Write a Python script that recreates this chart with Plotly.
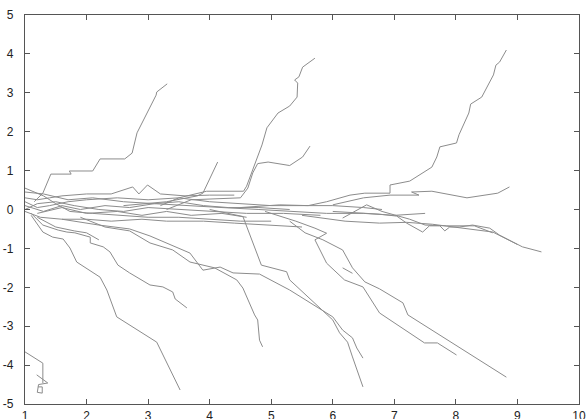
import plotly.graph_objects as go

# ---------------- data ----------------
x_tick_vals = [1, 2, 3, 4, 5, 6, 7, 8, 9, 10]
x_tick_text = ["1", "2", "3", "4", "5", "6", "7", "8", "9", "10"]
y_tick_vals = [-5, -4, -3, -2, -1, 0, 1, 2, 3, 4, 5]
y_tick_text = ["-5", "-4", "-3", "-2", "-1", "0", "1", "2", "3", "4", "5"]

# rising paths
up1_x = [1.15, 1.29, 1.42, 1.75, 1.72, 2.10, 2.22, 2.62, 2.74, 2.82, 3.13, 3.14, 3.31]
up1_y = [0.20, 0.42, 0.91, 0.91, 0.99, 0.99, 1.30, 1.30, 1.45, 1.97, 2.94, 3.02, 3.23]
up2_x = [3.2, 3.5, 3.95, 4.55, 4.6, 4.72, 4.85, 4.93, 5.11, 5.30, 5.42, 5.43, 5.38, 5.45, 5.51, 5.71]
up2_y = [0.10, 0.30, 0.47, 0.47, 0.60, 1.12, 1.66, 2.10, 2.48, 2.66, 2.89, 3.25, 3.33, 3.41, 3.66, 3.89]
up3_x = [3.3, 3.7, 4.5, 4.62, 4.70, 4.78, 4.95, 5.30, 5.51, 5.63]
up3_y = [0.00, 0.25, 0.30, 0.55, 0.94, 1.18, 1.22, 1.13, 1.35, 1.63]
up4_x = [2.6, 3.3, 3.8, 3.89, 4.13]
up4_y = [0.10, 0.20, 0.35, 0.42, 1.22]
up5_x = [4.5, 5.14, 5.6, 5.9, 6.28, 6.52, 6.93, 6.93, 7.25, 7.61, 7.69, 7.74, 8.01, 8.05, 8.21, 8.24, 8.42, 8.61, 8.65, 8.71, 8.82]
up5_y = [0.05, 0.12, 0.10, 0.20, 0.37, 0.42, 0.42, 0.63, 0.73, 1.09, 1.35, 1.61, 1.71, 1.92, 2.48, 2.71, 2.89, 3.46, 3.71, 3.79, 4.10]
up6_x = [6.0, 6.5, 6.93, 7.40, 7.28, 7.61, 8.18, 8.68, 8.87]
up6_y = [0.12, 0.30, 0.37, 0.37, 0.45, 0.47, 0.30, 0.42, 0.58]

# right-hand paths near zero
mid1_x = [6.0, 6.76, 7.04, 7.20, 7.46, 7.57, 7.74, 7.82, 7.90, 8.06, 8.27, 8.55, 8.71, 9.08, 9.39]
mid1_y = [-0.05, -0.12, -0.17, -0.35, -0.58, -0.42, -0.42, -0.55, -0.45, -0.45, -0.40, -0.48, -0.66, -0.96, -1.09]
mid2_x = [5.5, 6.2, 6.76, 7.2, 7.62, 8.27, 8.6, 9.0]
mid2_y = [-0.15, -0.30, -0.35, -0.33, -0.38, -0.50, -0.58, -0.90]
mid3_x = [6.16, 6.55, 6.8, 7.25, 7.5, 7.85, 8.3, 8.6]
mid3_y = [-0.22, 0.12, -0.05, -0.25, -0.40, -0.42, -0.42, -0.60]

# falling paths
dn1_x = [1.1, 1.29, 1.45, 1.62, 1.73, 1.84, 2.22, 2.33, 2.49, 2.70, 3.14, 3.52]
dn1_y = [-0.15, -0.58, -0.71, -0.76, -0.99, -1.35, -1.74, -2.07, -2.76, -2.97, -3.41, -4.64]
dn2_x = [1.1, 1.29, 1.54, 1.68, 1.81, 2.06, 2.06, 2.27, 2.38, 2.51, 2.70, 3.03, 3.24, 3.40, 3.44, 3.63]
dn2_y = [-0.10, -0.40, -0.53, -0.58, -0.60, -0.71, -0.86, -0.96, -1.09, -1.43, -1.63, -1.94, -1.99, -2.12, -2.30, -2.53]
dn3_x = [1.9, 2.3, 2.7, 3.03, 3.40, 3.68, 4.08, 4.44, 4.54, 4.73, 4.78, 4.81, 4.86]
dn3_y = [-0.20, -0.45, -0.55, -0.86, -1.04, -1.35, -1.50, -1.81, -2.02, -2.71, -2.84, -3.36, -3.53]
dn4_x = [4.0, 4.3, 4.54, 4.84, 5.25, 5.30, 6.00, 6.11, 6.24, 6.32, 6.49]
dn4_y = [0.00, -0.10, -0.18, -1.43, -1.60, -1.81, -2.84, -3.17, -3.41, -3.79, -4.56]
dn5_x = [1.6, 2.2, 2.7, 3.03, 3.68, 3.89, 4.17, 4.38, 4.81, 5.30, 6.00, 6.16, 6.32, 6.39, 6.49]
dn5_y = [-0.25, -0.40, -0.50, -0.68, -1.12, -1.56, -1.48, -1.63, -1.66, -2.07, -2.76, -3.10, -3.30, -3.56, -3.82]
dn6_x = [4.9, 5.4, 5.71, 5.90, 5.71, 5.90, 6.19, 6.49, 6.76, 7.49, 7.70, 8.01]
dn6_y = [-0.05, -0.30, -0.48, -0.61, -0.78, -1.38, -1.81, -1.99, -2.66, -3.43, -3.43, -3.74]
dn7_x = [5.3, 5.55, 5.84, 6.16, 6.32, 6.52, 6.76, 7.14, 7.22, 8.82]
dn7_y = [-0.30, -0.60, -0.78, -1.04, -1.50, -1.86, -2.04, -2.40, -2.71, -4.31]
short1_x = [1.2, 1.5, 1.8, 2.0, 2.2]
short1_y = [-0.20, -0.45, -0.55, -0.60, -0.78]
short2_x = [6.16, 6.32]
short2_y = [-1.50, -1.64]

# dense band around zero
c1_x = [1.0, 1.3, 1.5, 1.73, 2.1, 2.5, 3.0, 3.5, 4.0, 4.5, 5.0]
c1_y = [0.55, 0.35, 0.15, -0.05, -0.10, -0.15, -0.20, -0.20, -0.25, -0.30, -0.30]
c2_x = [1.0, 1.2, 1.4, 1.6, 2.0, 2.4, 2.75, 2.85, 2.99, 3.2, 3.6, 4.0, 4.4]
c2_y = [0.30, 0.25, 0.30, 0.35, 0.40, 0.40, 0.58, 0.40, 0.63, 0.40, 0.35, 0.37, 0.37]
c3_x = [1.0, 1.2, 1.4, 1.7, 2.0, 2.5, 3.0, 3.5, 4.0, 4.5, 5.0, 5.5, 6.0, 6.5, 6.8]
c3_y = [0.20, 0.05, 0.10, 0.20, 0.25, 0.30, 0.25, 0.30, 0.20, 0.15, 0.10, 0.10, 0.10, 0.05, 0.00]
c4_x = [1.0, 1.3, 1.6, 1.9, 2.3, 2.7, 3.1, 3.6, 4.2, 4.8, 5.4, 5.9, 6.5, 7.0, 7.5]
c4_y = [0.10, -0.05, 0.10, 0.00, 0.10, 0.05, 0.15, 0.10, 0.05, 0.00, -0.05, -0.10, -0.10, -0.15, -0.10]
c5_x = [1.0, 1.2, 1.5, 1.8, 2.2, 2.6, 3.0, 3.5, 4.0, 4.6, 5.2, 5.8]
c5_y = [0.00, 0.15, 0.20, 0.10, 0.00, -0.05, 0.05, 0.00, -0.05, -0.10, -0.10, -0.15]
c6_x = [1.0, 1.25, 1.6, 2.0, 2.4, 2.9, 3.3, 3.9, 4.4, 5.0, 5.5]
c6_y = [-0.05, -0.20, -0.25, -0.25, -0.30, -0.25, -0.30, -0.30, -0.35, -0.40, -0.45]
c7_x = [1.0, 1.3, 1.7, 2.1, 2.6, 3.1, 3.5, 3.9, 4.3, 4.8, 5.3]
c7_y = [0.45, 0.40, 0.25, 0.30, 0.20, 0.15, 0.20, 0.10, 0.05, 0.05, 0.00]
c8_x = [1.2, 1.6, 2.0, 2.5, 2.9, 3.3, 3.7, 4.2, 4.6]
c8_y = [-0.10, 0.05, -0.10, -0.05, -0.15, -0.05, -0.15, -0.10, -0.20]

# lower-left stray strokes
bl1_x = [1.0, 1.29, 1.29]
bl1_y = [-3.66, -3.95, -4.46]
bl2_x = [1.19, 1.37, 1.22, 1.20, 1.28, 1.28, 1.21]
bl2_y = [-4.25, -4.46, -4.50, -4.70, -4.72, -4.56, -4.56]

paths = [
    (up1_x, up1_y), (up2_x, up2_y), (up3_x, up3_y), (up4_x, up4_y),
    (up5_x, up5_y), (up6_x, up6_y),
    (mid1_x, mid1_y), (mid2_x, mid2_y), (mid3_x, mid3_y),
    (dn1_x, dn1_y), (dn2_x, dn2_y), (dn3_x, dn3_y), (dn4_x, dn4_y),
    (dn5_x, dn5_y), (dn6_x, dn6_y), (dn7_x, dn7_y),
    (short1_x, short1_y), (short2_x, short2_y),
    (c1_x, c1_y), (c2_x, c2_y), (c3_x, c3_y), (c4_x, c4_y),
    (c5_x, c5_y), (c6_x, c6_y), (c7_x, c7_y), (c8_x, c8_y),
    (bl1_x, bl1_y), (bl2_x, bl2_y),
]

fig = go.Figure()
for px, py in paths:
    fig.add_trace(go.Scatter(
        x=px, y=py, mode="lines",
        line=dict(color="#8c8c8c", width=1),
        hoverinfo="skip", showlegend=False,
    ))

axis_common = dict(
    showgrid=False, zeroline=False,
    showline=True, linecolor="#555555", linewidth=1.2,
    mirror="ticks", ticks="inside", ticklen=5, tickwidth=1,
    tickcolor="#555555", automargin=False,
    tickfont=dict(family="Liberation Sans, Arial, sans-serif", size=12, color="#222222"),
)

fig.update_xaxes(range=[1, 10], tickmode="array", tickvals=x_tick_vals,
                 ticktext=x_tick_text, **axis_common)
fig.update_yaxes(range=[-5, 5], tickmode="array", tickvals=y_tick_vals,
                 ticktext=y_tick_text, ticklabelstandoff=8, **axis_common)

fig.update_layout(
    width=588, height=419,
    margin=dict(l=25, r=9, t=15, b=15),
    paper_bgcolor="white", plot_bgcolor="white",
    showlegend=False,
)

fig.write_html("out.html", config={"displayModeBar": False},
               post_script="document.body.style.margin='0';")
